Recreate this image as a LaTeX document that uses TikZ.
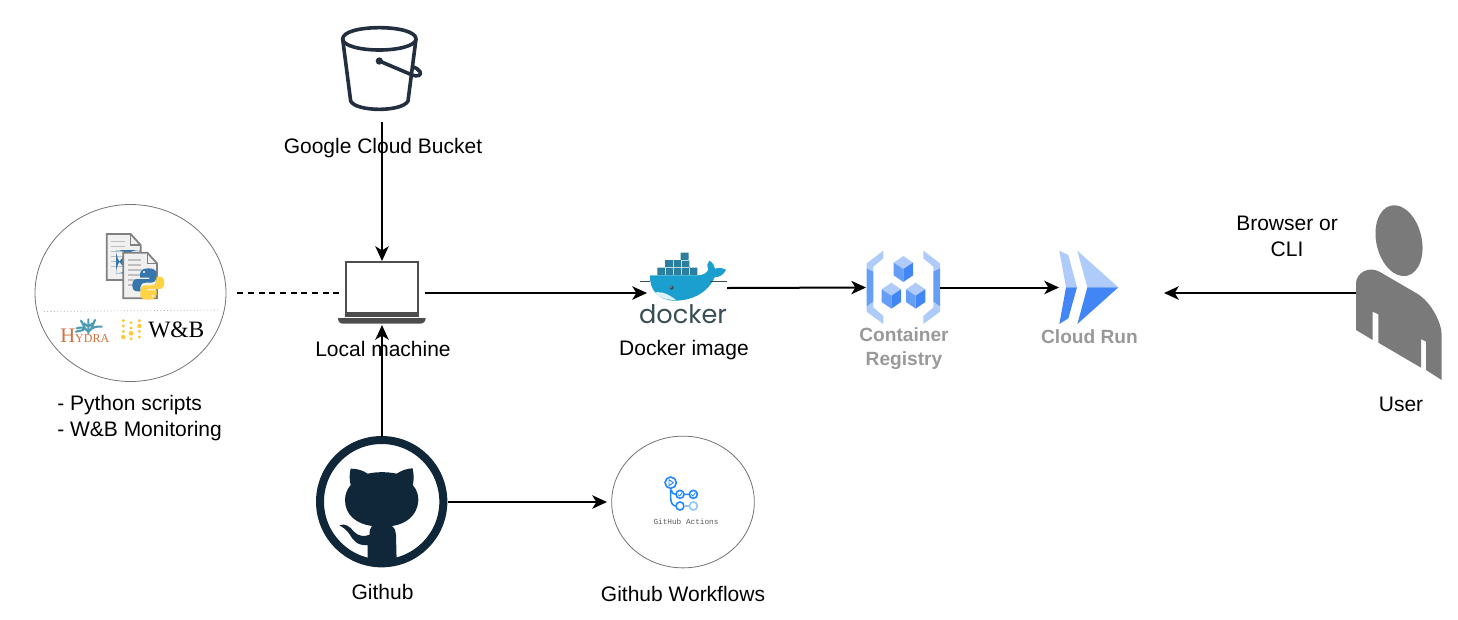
\documentclass[tikz,border=0pt]{standalone}
\usepackage{fontspec}
\setmainfont{Liberation Sans}
\newfontfamily\dockerfont{Poppins}
\newfontfamily\wbfont{Liberation Serif}
\newfontfamily\actfont{Liberation Mono}
\usetikzlibrary{arrows.meta,shapes.geometric}
\definecolor{bucketink}{HTML}{232F3E}
\definecolor{laptopink}{HTML}{4D4D4D}
\definecolor{whaleblue}{HTML}{1A9FCF}
\definecolor{boxteal}{HTML}{2A7F9E}
\definecolor{dockerink}{HTML}{394D54}
\definecolor{gcplight}{HTML}{AECBFA}
\definecolor{gcpmid}{HTML}{669DF6}
\definecolor{gcpdark}{HTML}{4285F4}
\definecolor{gcptext}{HTML}{999999}
\definecolor{userink}{HTML}{7A7A7A}
\definecolor{githubink}{HTML}{0F2738}
\definecolor{actblue}{HTML}{2188FF}
\definecolor{pyblue}{HTML}{3776AB}
\definecolor{pyyellow}{HTML}{FFD343}
\definecolor{hydraink}{HTML}{CF6F3C}
\definecolor{hydrateal}{HTML}{4E9DB3}
\definecolor{wbyellow}{HTML}{FFC933}
\tikzset{
  lbl/.style={font=\fontsize{15.75}{19.5}\selectfont,inner sep=0pt},
  gcplbl/.style={font=\fontsize{14.35}{18}\selectfont\bfseries,text=gcptext,inner sep=0pt},
  iconbox/.style={inner sep=0pt,outer sep=0pt},
  ringnode/.style={draw=black!55,line width=0.6pt,ellipse,inner sep=0pt,outer sep=0pt},
  flow/.style={line width=1.5pt,-{Stealth[length=11pt,width=10pt,inset=3pt]}}
}
\begin{document}
\begin{tikzpicture}[x=0.75pt,y=0.75pt,yscale=-1,xscale=1]
\useasboundingbox (0,0) rectangle (1458,619);

%Named boxes of the icons
\node [iconbox,minimum width=61.5pt,minimum height=71.25pt] (bucket) at (382,74.5) {};
\node [iconbox,minimum width=63.75pt,minimum height=48pt] (laptop) at (382,293) {};
\node [iconbox,minimum width=60pt,minimum height=45pt] (docker) at (687,288) {};
\node [iconbox,minimum width=55.5pt,minimum height=45pt] (registry) at (903,287.5) {};
\node [iconbox,minimum width=78.75pt,minimum height=45pt] (cloudrun) at (1111.5,287.5) {};
\node [iconbox,minimum width=64.5pt,minimum height=131pt] (user) at (1399,293) {};
\node [iconbox,minimum width=98.25pt,minimum height=98.25pt] (github) at (382,502) {};
\node [ringnode,minimum width=143.25pt,minimum height=132.75pt] (tools) at (130.5,293) {};
\node [ringnode,minimum width=107pt,minimum height=98.8pt] (actions) at (683,502) {};

%Shape: Bucket
\begin{scope}[shift={(320,15)},scale=1/3,draw=bucketink,line width=2.7pt,line join=round,line cap=round]
\draw (178,38) .. controls (235,38) and (288,50) .. (288,72) .. controls (288,92) and (235,105) .. (178,105) .. controls (120,105) and (68,92) .. (68,72) .. controls (68,50) and (120,38) .. (178,38) -- cycle ;
\draw (68,72) -- (92,258) .. controls (100,275) and (140,283) .. (178,283) .. controls (215,283) and (255,275) .. (264,258) -- (288,72) ;
\draw (178,138) -- (272,178) .. controls (295,188) and (305,180) .. (300,170) .. controls (296,162) and (285,158) .. (280,156) ;
\fill [bucketink] (178,138) circle (11) ;
\end{scope}

%Shape: Laptop
\begin{scope}[shift={(330,250)},scale=1/3]
\draw [draw=laptopink,line width=1.5pt] (48,36) rectangle (263,198) ;
\fill [laptopink] (48,186) rectangle (263,200) ;
\fill [laptopink] (24,204) -- (287,204) .. controls (287,215) and (280,221) .. (270,221) -- (40,221) .. controls (30,221) and (24,215) .. (24,204) -- cycle ;
\end{scope}

%Shape: Docker whale
\begin{scope}[shift={(620,230)},scale=1/3]
\fill [boxteal] (112,113) rectangle (232,136) (135,90) rectangle (208,113) (182,68) rectangle (206,90) ;
\foreach \boxx in {136,160,184,208} {\draw [white!70!boxteal,line width=0.3pt] (\boxx,113) -- (\boxx,136) ;}
\draw [white!70!boxteal,line width=0.3pt] (135,113) -- (208,113) (182,90) -- (208,90) (160,90) -- (160,113) (184,90) -- (184,113) ;
\fill [whaleblue] (90,136) -- (232,136) .. controls (250,136) and (262,128) .. (265,118) .. controls (260,108) and (262,98) .. (268,92) .. controls (278,98) and (284,106) .. (285,116) .. controls (296,112) and (310,114) .. (318,120) .. controls (310,136) and (296,142) .. (284,142) .. controls (268,180) and (225,212) .. (165,212) .. controls (115,212) and (88,180) .. (90,136) -- cycle ;
\fill [white!85!whaleblue] (103,188) .. controls (125,182) and (150,195) .. (168,210) .. controls (140,210) and (118,204) .. (103,188) -- cycle ;
\fill [dockerink] (155,173) circle (6) ;
\fill [white] (153,171) circle (2) ;
\draw [dockerink,line width=0.4pt] (60,155) -- (90,155) (270,155) -- (320,155) ;
\end{scope}

%Shape: Container Registry
\begin{scope}[shift={(850,230)},scale=1/3]
\fill [gcplight] (100,62) -- (100,85) -- (70,110) -- (70,125) -- (50,115) -- (50,100) -- cycle ;
\fill [gcpmid] (50,115) -- (70,125) -- (70,215) -- (50,230) -- cycle ;
\fill [gcplight] (50,230) -- (70,215) -- (70,232) -- (100,258) -- (100,282) -- (50,245) -- cycle ;
\fill [gcplight] (220,62) -- (220,85) -- (250,110) -- (250,125) -- (270,115) -- (270,100) -- cycle ;
\fill [gcpmid] (270,115) -- (250,125) -- (250,215) -- (270,230) -- cycle ;
\fill [gcplight] (270,230) -- (250,215) -- (250,232) -- (220,258) -- (220,282) -- (270,245) -- cycle ;
\foreach \cubex/\cubey in {160/117,124/197,197/197} {
\fill [gcplight] (\cubex,\cubey-39) -- (\cubex+29,\cubey-19) -- (\cubex,\cubey) -- (\cubex-29,\cubey-19) -- cycle ;
\fill [gcpmid] (\cubex-29,\cubey-19) -- (\cubex,\cubey) -- (\cubex,\cubey+39) -- (\cubex-29,\cubey+19) -- cycle ;
\fill [gcpdark] (\cubex+29,\cubey-19) -- (\cubex,\cubey) -- (\cubex,\cubey+39) -- (\cubex+29,\cubey+19) -- cycle ;
}
\end{scope}

%Shape: Cloud Run
\begin{scope}[shift={(850,230)},scale=1/3]
\fill [gcplight] (628,62) -- (655,75) -- (681,172) -- (648,172) -- cycle ;
\fill [gcpdark] (648,172) -- (681,172) -- (655,265) -- (628,282) -- cycle ;
\fill [gcplight] (682,62) -- (805,172) -- (712,172) -- cycle ;
\fill [gcpdark] (712,172) -- (805,172) -- (682,282) -- cycle ;
\end{scope}

%Shape: User
\begin{scope}[shift={(1340,195)},scale=1/3,fill=userink]
\fill [userink,rotate around={-13:(177,137)}] (177,137) ellipse (68 and 108) ;
\fill [userink] (48,405) -- (48,265) .. controls (48,235) and (85,212) .. (118,230) -- (230,295) .. controls (275,322) and (305,385) .. (305,420) -- (305,555) -- (258,525) -- (258,440) -- (243,432) -- (243,518) -- (115,443) -- (115,358) -- (98,350) -- (98,435) -- cycle ;
\end{scope}

%Shape: Github ring and cat
\begin{scope}[shift={(300,420)},scale=1/3]
\draw [githubink,line width=6pt] (245,245) circle (185) ;
\fill [githubink] (152,146) .. controls (170,145) and (190,152) .. (203,161) .. controls (230,155) and (262,155) .. (290,161) .. controls (303,152) and (322,145) .. (338,145) .. controls (342,165) and (342,182) .. (338,195) .. controls (350,208) and (356,225) .. (355,242) .. controls (352,285) and (320,312) .. (276,318) .. controls (285,325) and (288,335) .. (288,345) -- (290,425) -- (203,425) -- (203,375) .. controls (170,378) and (160,360) .. (148,342) .. controls (140,330) and (130,322) .. (118,316) .. controls (135,308) and (150,320) .. (162,335) .. controls (175,350) and (195,350) .. (209,344) .. controls (208,332) and (210,325) .. (216,318) .. controls (170,312) and (135,285) .. (135,240) .. controls (135,222) and (142,207) .. (152,195) .. controls (148,180) and (148,162) .. (152,146) -- cycle ;
\end{scope}

%Shape: Python files
\begin{scope}[shift={(20,190)},scale=1/3]
\draw [black!50,fill=black!6,line width=1.3pt] (260,132) -- (332,132) -- (362,165) -- (362,270) -- (260,270) -- cycle ;
\draw [black!50,line width=0.8pt] (332,132) -- (332,165) -- (362,165) ;
\foreach \liney in {155,170,185,200,215,230} {\draw [black!25,line width=0.8pt] (274,\liney) -- (315,\liney) ;}
\fill [pyblue,rounded corners=18pt] (288,180) rectangle (358,250) ;
\draw [black!50,fill=black!6,line width=1.3pt] (310,188) -- (382,188) -- (411,220) -- (411,325) -- (310,325) -- cycle ;
\draw [black!50,line width=0.8pt] (382,188) -- (382,220) -- (411,220) ;
\foreach \liney in {210,225,240,255,270,285} {\draw [black!25,line width=0.8pt] (324,\liney) -- (362,\liney) ;}
\foreach \pycolor/\pyangle in {pyyellow/180,pyblue/0} {
\begin{scope}[rotate around={\pyangle:(385,282)}]
\fill [\pycolor] (385,235) .. controls (365,235) and (360,243) .. (360,255) -- (360,263) -- (388,263) -- (388,267) -- (352,267) .. controls (342,267) and (337,275) .. (337,285) .. controls (337,298) and (342,304) .. (352,304) -- (361,304) -- (361,292) .. controls (361,283) and (368,278) .. (378,278) -- (395,278) .. controls (403,278) and (409,272) .. (409,264) -- (409,250) .. controls (409,240) and (400,235) .. (385,235) -- cycle ;
\fill [white] (372,246) circle (3.5) ;
\end{scope}
}
\end{scope}

%Straight Lines: separator in the circle
\draw [black!45,line width=0.5pt,dotted] (44,311.5) -- (219,310) ;

%Shape: Hydra coral and W&B dots
\begin{scope}[shift={(20,190)},scale=1/3]
\draw [hydrateal,line width=1.6pt,line cap=round] (205,430) -- (205,388) (205,425) .. controls (195,412) and (185,410) .. (170,415) (205,425) .. controls (215,412) and (230,408) .. (245,410) (198,420) -- (183,392) (212,420) -- (225,390) (205,410) -- (192,400) (205,410) -- (218,400) (168,425) -- (190,420) ;
\foreach \dotx/\doty in {310/392,310/408,310/424,310/441,333/398,333/414,333/430,333/446,358/392,358/408,358/424,358/441} {\fill [wbyellow] (\dotx,\doty) circle (5) ;}
\fill [wbyellow] (333,430) circle (7) (310,441) circle (6.5) (358,408) circle (6.5) ;
\end{scope}

%Shape: Github Actions icon
\begin{scope}[shift={(600,430)},scale=1/3,draw=actblue,line width=1.2pt]
\draw [fill=white] (212,158) circle (17) ;
\draw (212,175) -- (212,205) .. controls (212,220) and (220,228) .. (228,228) (214,180) .. controls (216,190) and (222,193) .. (228,193) (252,193) -- (268,193) ;
\draw (240,193) circle (12) (280,193) circle (12) (240,228) circle (12) ;
\draw [actblue!50] (252,228) -- (268,228) (280,228) circle (12) ;
\draw [line width=0.7pt,line join=round] (207,149) -- (220,158) -- (207,167) -- cycle ;
\draw [line width=0.6pt] (234,193) -- (239,198) -- (246,188) (274,193) -- (279,198) -- (286,188) ;
\end{scope}

%Straight Lines
\draw [flow] (bucket.south) -- (laptop.north) ;
\draw [flow] (github.north) -- (laptop.south) ;
\draw [flow] (laptop.east) -- (laptop.east -| docker.west) ;
\draw [flow] (docker.east) -- (registry.west) ;
\draw [flow] (registry.east) -- (cloudrun.west) ;
\draw [flow] (user.west) -- (user.west -| cloudrun.east) ;
\draw [flow,shorten >=3.5pt] (github.east) -- (actions.west) ;
\draw [line width=1.1pt,dash pattern={on 4.5pt off 3.5pt},shorten <=8.5pt] (tools.east) -- (tools.east -| laptop.west) ;

% Text Node
\node [lbl,anchor=base] (bucketlbl) at (383,153) {Google Cloud Bucket};
\node [lbl,anchor=base] (laptoplbl) at (383,356) {Local machine};
\node [lbl,anchor=base] (dockerlbl) at (684,355) {Docker image};
\node [gcplbl,align=center] (registrylbl) at (904,349) {Container\\Registry};
\node [gcplbl,anchor=base] (cloudrunlbl) at (1089.5,343.5) {Cloud Run};
\node [lbl,align=center] (browserlbl) at (1287,236) {Browser or\\CLI};
\node [lbl,anchor=base] (userlbl) at (1401,411) {User};
\node [lbl,anchor=base] (githublbl) at (382.5,599) {Github};
\node [lbl,anchor=base] (actionslbl) at (683,601) {Github Workflows};
\node [lbl,align=left,anchor=west] (toolslbl) at (57,418) {- Python scripts\\- W\&B Monitoring};
\node [inner sep=0pt,anchor=base,font=\dockerfont\fontsize{19.2}{20}\selectfont,text=dockerink] (dockerlogo) at (683,323) {docker};
\node [inner sep=0pt,anchor=base west,font=\wbfont,text=hydraink] (hydralogo) at (60,342) {\fontsize{15.5}{16}\selectfont H\fontsize{9}{10}\selectfont YDRA};
\node [inner sep=0pt,anchor=base west,font=\wbfont\fontsize{17.6}{20}\selectfont,text=black] (wblogo) at (148,337) {W\&B};
\node [inner sep=0pt,font=\actfont\fontsize{5.8}{7}\selectfont,text=black!65] (actionslogo) at (686,522) {GitHub Actions};

\end{tikzpicture}
\end{document}
